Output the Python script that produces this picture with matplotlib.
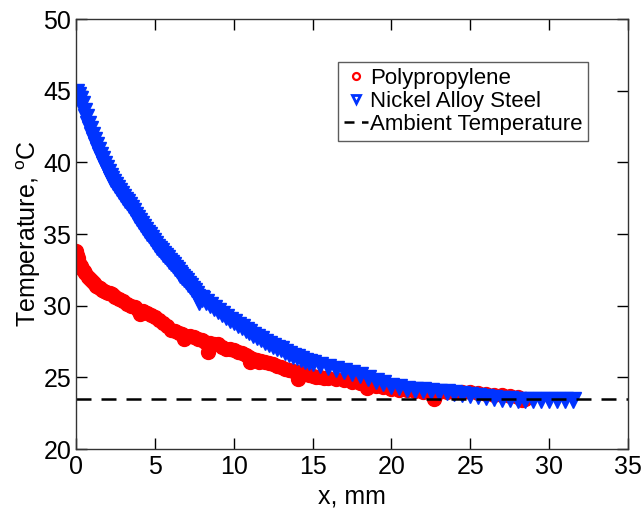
import matplotlib
matplotlib.use("Agg")
import matplotlib.pyplot as plt
from matplotlib.lines import Line2D

plt.rcParams['font.family'] = ['Liberation Sans', 'DejaVu Sans']
plt.rcParams['mathtext.fontset'] = 'custom'
plt.rcParams['mathtext.rm'] = 'Liberation Sans'

# polypropylene surface temperature (x in mm, T in degC)
pp_x = [0.0, 0.05, 0.1, 0.15, 0.2, 0.3, 0.4, 0.5, 0.6, 0.75, 0.875, 1.0, 1.125, 1.25,
        1.375, 1.5, 1.625, 1.75, 1.875, 2.0, 2.15, 2.3, 2.4, 2.5,
        2.75, 3.0, 3.25, 3.5, 3.75, 3.9, 4.05, 4.25, 4.5, 4.75, 5.0, 5.25, 5.5,
        5.75, 6.0, 6.25, 6.5, 6.75, 6.85, 7.0, 7.25, 7.5, 7.75, 8.0, 8.2, 8.35,
        8.5, 8.75, 9.0, 9.25, 9.5, 9.75, 10.0, 10.25, 10.5, 10.75, 11.0, 11.05,
        11.25, 11.5, 11.6, 11.75, 12.0, 12.25, 12.5, 12.75, 13.0, 13.25, 13.5,
        13.75, 14.0, 14.05, 14.25, 14.5, 14.75, 15.0, 15.25, 15.5, 15.75, 16.0,
        16.5, 17.0, 17.5, 18.0, 18.3, 18.45, 18.6, 19.0, 19.5, 20.0, 20.5, 21.0,
        21.5, 22.0, 22.5, 22.7, 22.8, 23.0, 23.5, 24.0, 24.5, 25.0, 25.5, 26.0,
        26.5, 27.0, 27.5, 28.0, 28.3, 28.5]
pp_t = [33.8, 33.55, 33.3, 33.1, 32.95, 32.75, 32.55, 32.4, 32.25, 32.0, 31.85, 31.7, 31.55, 31.4,
        31.3, 31.2, 31.1, 31.0, 30.95, 30.9, 30.85, 30.8, 30.7, 30.6,
        30.45, 30.3, 30.15, 30.0, 29.9, 29.7, 29.45, 29.65, 29.5, 29.35, 29.2, 29.0, 28.8,
        28.55, 28.3, 28.2, 28.1, 28.0, 27.7, 27.9, 27.85, 27.8, 27.7, 27.6, 27.5, 26.75,
        27.4, 27.35, 27.3, 27.15, 27.0, 26.95, 26.9, 26.8, 26.7, 26.55, 26.4, 26.05,
        26.3, 26.2, 26.05, 26.15, 26.1, 26.0, 25.9, 25.8, 25.7, 25.6, 25.5,
        25.42, 25.35, 24.9, 25.27, 25.2, 25.15, 25.1, 25.05, 25.0, 24.97, 24.95,
        24.9, 24.8, 24.7, 24.6, 24.55, 24.25, 24.5, 24.4, 24.3, 24.2, 24.15, 24.1,
        24.05, 24.0, 24.0, 23.5, 23.9, 24.0, 24.0, 24.0, 24.0, 23.95, 23.9, 23.85,
        23.8, 23.75, 23.7, 23.6, 23.45, 23.5]

# nickel alloy steel surface temperature
ni_x = [0.0, 0.125, 0.25, 0.375, 0.5, 0.625, 0.75, 0.875, 1.0, 1.125, 1.25, 1.375,
        1.5, 1.625, 1.75, 1.875, 2.0, 2.125, 2.25, 2.375, 2.5, 2.625, 2.75, 2.875,
        3.0, 3.125, 3.25, 3.375, 3.5, 3.625, 3.75, 3.875, 4.0, 4.125, 4.25, 4.375,
        4.5, 4.625, 4.75, 4.875, 5.0, 5.125, 5.25, 5.375, 5.5, 5.625, 5.75, 5.875,
        6.0, 6.125, 6.25, 6.375, 6.5, 6.625, 6.75, 6.875, 7.0, 7.125, 7.25, 7.375,
        7.5, 7.6, 7.7, 7.8, 7.9, 8.0, 8.25, 8.5, 8.75, 9.0,
        9.25, 9.5, 9.75, 10.0, 10.25, 10.5, 10.75, 11.0, 11.25, 11.5, 11.75, 12.0,
        12.25, 12.5, 12.75, 13.0, 13.25, 13.5, 13.75, 14.0, 14.25, 14.5, 14.75,
        15.0, 15.5, 16.0, 16.5, 17.0, 17.5, 18.0, 18.5, 19.0, 19.5, 20.0, 20.5,
        21.0, 21.5, 22.0, 22.5, 23.0, 23.5, 24.0, 24.5, 25.0, 25.5, 26.0, 26.5,
        27.0, 27.5, 28.0, 28.5, 29.0, 29.5, 30.0, 30.5, 31.0, 31.5]
ni_t = [44.9, 44.7, 44.4, 44.05, 43.6, 43.15, 42.7, 42.3, 41.9, 41.55, 41.2, 40.85,
        40.5, 40.2, 39.9, 39.6, 39.3, 39.08, 38.85, 38.62, 38.4, 38.2, 38.0, 37.8,
        37.6, 37.4, 37.2, 37.0, 36.8, 36.58, 36.35, 36.12, 35.9, 35.7, 35.5, 35.3,
        35.1, 34.9, 34.7, 34.5, 34.3, 34.12, 33.95, 33.78, 33.6, 33.45, 33.3, 33.15,
        33.0, 32.82, 32.65, 32.48, 32.3, 32.15, 32.0, 31.85, 31.7, 31.52, 31.35, 31.18,
        31.0, 30.8, 30.6, 30.25, 30.55, 30.5, 30.25, 30.05, 29.85, 29.6,
        29.4, 29.2, 29.02, 28.85, 28.67, 28.5, 28.32, 28.15, 27.97, 27.8, 27.65, 27.5,
        27.35, 27.2, 27.07, 26.95, 26.8, 26.65, 26.52, 26.4, 26.27, 26.15, 26.07,
        26.0, 25.85, 25.7, 25.6, 25.45, 25.3, 25.15, 24.95, 24.75, 24.6, 24.4, 24.3,
        24.2, 24.15, 24.1, 24.05, 24.0, 23.95, 23.9, 23.85, 23.8, 23.7, 23.6, 23.55,
        23.5, 23.5, 23.45, 23.45, 23.45, 23.45, 23.45, 23.45, 23.4, 23.45]

ambient = 23.5

fig = plt.figure(figsize=(6.42, 5.11), dpi=100)
ax = fig.add_axes([0.1184, 0.1213, 0.8596, 0.8415])

ax.plot(pp_x, pp_t, ls='none', marker='o', ms=10, mfc='#ff0000', mec='#ff0000', mew=1)
ax.plot(ni_x, ni_t, ls='none', marker='v', ms=12, mfc='#0033ff', mec='#0033ff', mew=1)
ax.axhline(ambient, color='black', lw=1.8, dashes=(6, 4))

ax.set_xlim(0, 35)
ax.set_ylim(20, 50)
ax.set_xticks(range(0, 36, 5))
ax.set_yticks(range(20, 51, 5))
ax.tick_params(direction='in', length=8, width=1, top=True, right=True,
               labelsize=18, colors='black')
ax.tick_params(axis='x', pad=4)
for s in ax.spines.values():
    s.set_linewidth(1)
    s.set_color('#333333')

ax.set_xlabel('x, mm', fontsize=18, labelpad=4)
ax.set_ylabel(r'Temperature, $^{\mathregular{o}}$C', fontsize=18, labelpad=0)

handles = [
    Line2D([], [], ls='none', marker='o', ms=5, mfc='none', mec='#ff0000', mew=1.6),
    Line2D([], [], ls='none', marker='v', ms=6, mfc='none', mec='#0033ff', mew=2),
    Line2D([], [], color='black', lw=1.8, dashes=(4, 3)),
]
labels = ['Polypropylene', 'Nickel Alloy Steel', 'Ambient Temperature']
leg = ax.legend(handles, labels, loc='upper left', bbox_to_anchor=(0.475, 0.9),
                borderaxespad=0, fontsize=16, frameon=True, fancybox=False,
                edgecolor='#333333', handlelength=1.1, handletextpad=0.1,
                labelspacing=0.1, borderpad=0.25)
leg.get_frame().set_linewidth(1)

fig.savefig('out.png', dpi=100)
